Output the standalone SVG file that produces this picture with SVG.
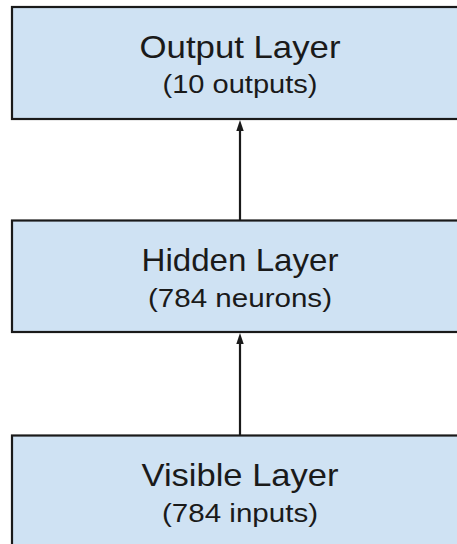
<svg xmlns="http://www.w3.org/2000/svg" width="457" height="544" viewBox="0 0 457 544">
<style>
.box{fill:#cfe2f3;stroke:#1a1a1a;stroke-width:2.2}
.t{font-family:"Liberation Sans",Arial,sans-serif;fill:#1a1a1a;text-anchor:middle}
.h{font-size:32px}
.s{font-size:26px}
.conn{stroke:#1a1a1a;stroke-width:2.2;fill:none}
.head{fill:#1a1a1a}
</style>
<rect width="457" height="544" fill="#ffffff"/>
<g id="output-layer">
<rect class="box" x="12" y="7" width="460" height="112"/>
<text class="t h" x="240" y="57.5" textLength="201" lengthAdjust="spacingAndGlyphs">Output Layer</text>
<text class="t s" x="240" y="93" textLength="155" lengthAdjust="spacingAndGlyphs">(10 outputs)</text>
</g>
<g id="hidden-layer">
<rect class="box" x="12" y="220.5" width="460" height="111.5"/>
<text class="t h" x="240" y="270.5" textLength="197" lengthAdjust="spacingAndGlyphs">Hidden Layer</text>
<text class="t s" x="240" y="306.5" textLength="184" lengthAdjust="spacingAndGlyphs">(784 neurons)</text>
</g>
<g id="visible-layer">
<rect class="box" x="12" y="435.5" width="460" height="130"/>
<text class="t h" x="240" y="485.5" textLength="197" lengthAdjust="spacingAndGlyphs">Visible Layer</text>
<text class="t s" x="240" y="521.5" textLength="156" lengthAdjust="spacingAndGlyphs">(784 inputs)</text>
</g>
<g id="connectors">
<line class="conn" x1="240" y1="220" x2="240" y2="130"/>
<polygon class="head" points="240,120 236.3,131 243.7,131"/>
<line class="conn" x1="240" y1="435" x2="240" y2="343"/>
<polygon class="head" points="240,333 236.3,344 243.7,344"/>
</g>
</svg>
